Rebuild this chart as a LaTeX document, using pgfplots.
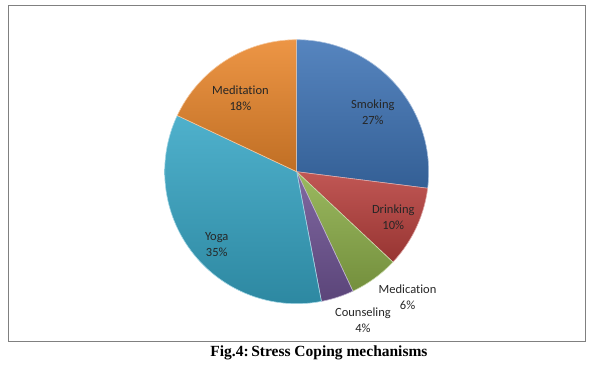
\documentclass[border=0pt]{standalone}
\usepackage{pgfplots}
\pgfplotsset{compat=1.18}
\usepgfplotslibrary{polar}
\usepackage{fontspec}
\setmainfont{Liberation Serif}
\newfontfamily\lab[Ligatures={NoCommon,NoContextual}]{Carlito}
\definecolor{cSmoking}{HTML}{3F74B6}
\definecolor{cDrinking}{HTML}{B8403D}
\definecolor{cMedication}{HTML}{8DAF4A}
\definecolor{cCounseling}{HTML}{6F5494}
\definecolor{cYoga}{HTML}{37A6C5}
\definecolor{cMeditation}{HTML}{EA872C}
\tikzset{lbl/.style={align=center, text=black!85, font=\lab\fontsize{12.5}{16}\selectfont},
  sl/.style={top color=#1!88!white, bottom color=#1!82!black, draw=white!55!#1, line width=0.6pt, mark=none}}
% shares (%): Smoking 27, Drinking 10, Medication 6, Counseling 4, Yoga 35, Meditation 18
% slices clockwise from 12 o'clock: angle = 90 - 3.6*cumulative share
\begin{document}
\begin{tikzpicture}
\begin{polaraxis}[hide axis, scale only axis, width=264pt, height=264pt,
  xmin=0, xmax=360, ymin=0, ymax=1, at={(0,0)}, anchor=center, clip=false]
\addplot[sl=cSmoking, domain=-7.2:90, samples=80] {1} -- (axis cs:0,0) -- cycle;
\addplot[sl=cDrinking, domain=-43.2:-7.2, samples=40] {1} -- (axis cs:0,0) -- cycle;
\addplot[sl=cMedication, domain=-64.8:-43.2, samples=30] {1} -- (axis cs:0,0) -- cycle;
\addplot[sl=cCounseling, domain=-79.2:-64.8, samples=20] {1} -- (axis cs:0,0) -- cycle;
\addplot[sl=cYoga, domain=-205.2:-79.2, samples=100] {1} -- (axis cs:0,0) -- cycle;
\addplot[sl=cMeditation, domain=-270:-205.2, samples=60] {1} -- (axis cs:0,0) -- cycle;
\node[lbl] at (axis cs:37.8,0.73) {Smoking\\27\%};
\node[lbl] at (axis cs:-25.4,0.81) {Drinking\\10\%};
\node[lbl] at (axis cs:-48.6,1.27) {Medication\\6\%};
\node[lbl] at (axis cs:-65.9,1.23) {Counseling\\4\%};
\node[lbl] at (axis cs:-137.6,0.82) {Yoga\\35\%};
\node[lbl] at (axis cs:127.5,0.70) {Meditation\\18\%};
\end{polaraxis}
\draw[black!50, line width=0.9pt] (-288.4pt,166.7pt) rectangle (288.3pt,-169.3pt);
\node[font=\bfseries\fontsize{15.5}{17}\selectfont] at (22.3pt,-180.8pt) {Fig.4:\hspace{2.5pt}Stress Coping mechanisms};
\pgfresetboundingbox
\path (-296.7pt,171.7pt) rectangle (306.3pt,-193.3pt);
\end{tikzpicture}
\end{document}
